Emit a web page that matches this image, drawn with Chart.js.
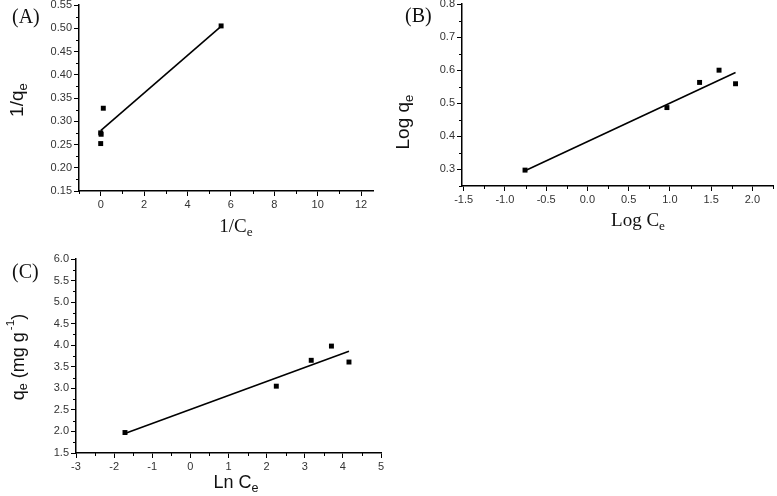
<!DOCTYPE html>
<html>
<head>
<meta charset="utf-8">
<script src="https://cdn.jsdelivr.net/npm/chart.js@4.4.1/dist/chart.umd.min.js"></script>
<style>
  body { margin: 0; background: #fff; width: 777px; height: 496px; overflow: hidden; position: relative; }
  canvas { position: absolute; }
  .lbl { position: absolute; color: #111; white-space: nowrap; line-height: 1; }
  .serif { font-family: "Liberation Serif", "Times New Roman", serif; }
  .sans { font-family: "Liberation Sans", Arial, sans-serif; }
  .rot { transform: translate(-50%, -50%) rotate(-90deg); }
  .ctr { transform: translate(-50%, -50%); }
  sub { font-size: 70%; vertical-align: -0.3em; }
  sup { font-size: 65%; vertical-align: 0.8em; margin-left: 2px; }
</style>
</head>
<body>
<canvas id="chartA" width="390" height="245" style="left:0;top:0"></canvas>
<canvas id="chartB" width="387" height="245" style="left:390px;top:0"></canvas>
<canvas id="chartC" width="390" height="246" style="left:0;top:250px"></canvas>

<div class="lbl serif" style="left:12px;top:6px;font-size:20px">(A)</div>
<div class="lbl sans rot" style="left:18px;top:100px;font-size:19px">1/q<sub>e</sub></div>
<div class="lbl serif ctr" style="left:236px;top:227px;font-size:19px">1/C<sub>e</sub></div>

<div class="lbl serif" style="left:405px;top:5px;font-size:20px">(B)</div>
<div class="lbl sans rot" style="left:404px;top:122px;font-size:19px">Log q<sub>e</sub></div>
<div class="lbl serif ctr" style="left:638px;top:221px;font-size:19px">Log C<sub>e</sub></div>

<div class="lbl serif" style="left:12px;top:261px;font-size:20px">(C)</div>
<div class="lbl sans rot" style="left:17px;top:357px;font-size:18px">q<sub>e</sub> (mg g<sup>-1</sup>)</div>
<div class="lbl sans ctr" style="left:236px;top:484px;font-size:18px">Ln C<sub>e</sub></div>

<script>
// Langmuir (A)
const aX = [0, 0, 0.02, 0.12, 5.55];
const aY = [0.252, 0.275, 0.272, 0.328, 0.505];
const aFitX = [0, 5.52];
const aFitY = [0.28, 0.503];
const aXTicks = [0, 2, 4, 6, 8, 10, 12];
const aYTicks = [0.15, 0.20, 0.25, 0.30, 0.35, 0.40, 0.45, 0.50, 0.55];

// Freundlich (B)
const bX = [-0.756, 0.964, 1.36, 1.596, 1.796];
const bY = [0.298, 0.487, 0.563, 0.6, 0.559];
const bFitX = [-0.756, 1.796];
const bFitY = [0.296, 0.593];
const bXTicks = [-1.5, -1.0, -0.5, 0.0, 0.5, 1.0, 1.5, 2.0];
const bYTicks = [0.3, 0.4, 0.5, 0.6, 0.7, 0.8];

// Temkin (C)
const cX = [-1.715, 2.254, 3.17, 3.70, 4.16];
const cY = [1.975, 3.05, 3.65, 3.98, 3.61];
const cFitX = [-1.70, 4.16];
const cFitY = [1.96, 3.86];
const cXTicks = [-3, -2, -1, 0, 1, 2, 3, 4, 5];
const cYTicks = [1.5, 2.0, 2.5, 3.0, 3.5, 4.0, 4.5, 5.0, 5.5, 6.0];

Chart.defaults.font.family = '"Liberation Sans", Arial, sans-serif';
Chart.defaults.font.size = 11;
Chart.defaults.color = '#333';

const toPts = (xs, ys) => xs.map((x, i) => ({ x: x, y: ys[i] }));

// short minor ticks between the major ones
const minorTicks = {
    id: 'minorTicks',
    afterDraw(chart) {
        const ctx = chart.ctx;
        ctx.save();
        ctx.strokeStyle = '#000';
        ctx.lineWidth = 1;
        Object.values(chart.scales).forEach(scale => {
            const step = scale.options.minorStep;
            if (!step) return;
            const start = Math.ceil(scale.min / step - 1e-6) * step;
            for (let v = start; v <= scale.max + 1e-9; v += step) {
                if (scale.ticks.some(t => Math.abs(t.value - v) < 1e-6)) continue;
                const p = Math.round(scale.getPixelForValue(v)) + 0.5;
                ctx.beginPath();
                if (scale.axis === 'x') {
                    ctx.moveTo(p, scale.top);
                    ctx.lineTo(p, scale.top + 3);
                } else {
                    ctx.moveTo(scale.right, p);
                    ctx.lineTo(scale.right - 3, p);
                }
                ctx.stroke();
            }
        });
        ctx.restore();
    }
};

function axis(min, max, ticks, decimals, minorStep, size) {
    return {
        type: 'linear',
        min: min,
        max: max,
        minorStep: minorStep,
        afterBuildTicks: s => { s.ticks = ticks.map(v => ({ value: v })); },
        afterFit: s => {
            if (s.axis === 'x') s.height = size; else s.width = size;
            s.paddingLeft = 0; s.paddingRight = 0; s.paddingTop = 0; s.paddingBottom = 0;
        },
        ticks: {
            autoSkip: false,
            maxRotation: 0,
            padding: 2,
            callback: v => v.toFixed(decimals)
        },
        grid: { drawOnChartArea: false, drawTicks: true, tickLength: 5, color: '#000' },
        border: { color: '#000', width: 1.5 }
    };
}

function makeChart(id, xs, ys, fx, fy, xAxis, yAxis, padding) {
    return new Chart(document.getElementById(id), {
        type: 'scatter',
        data: {
            datasets: [{
                data: toPts(fx, fy),
                showLine: true,
                borderColor: '#000',
                borderWidth: 1.6,
                pointRadius: 0
            }, {
                data: toPts(xs, ys),
                pointStyle: 'rect',
                pointRadius: 3.5,
                backgroundColor: '#000',
                borderColor: '#000',
                borderWidth: 0
            }]
        },
        options: {
            responsive: false,
            animation: false,
            layout: { padding: padding },
            plugins: { legend: { display: false }, tooltip: { enabled: false } },
            scales: { x: xAxis, y: yAxis }
        },
        plugins: [minorTicks]
    });
}

makeChart('chartA', aX, aY, aFitX, aFitY,
    axis(-1, 12.55, aXTicks, 0, 1, 54),
    axis(0.15, 0.55, aYTicks, 2, 0.025, 79),
    { top: 5, right: 17, bottom: 0, left: 0 });

makeChart('chartB', bX, bY, bFitX, bFitY,
    axis(-1.52, 2.25, bXTicks, 1, 0.25, 59),
    axis(0.25, 0.8, bYTicks, 1, 0.05, 72),
    { top: 3, right: 0, bottom: 0, left: 0 });

makeChart('chartC', cX, cY, cFitX, cFitY,
    axis(-3, 5, cXTicks, 0, 0.5, 43),
    axis(1.5, 6.0, cYTicks, 1, 0.25, 76),
    { top: 9, right: 9, bottom: 0, left: 0 });
</script>
</body>
</html>
